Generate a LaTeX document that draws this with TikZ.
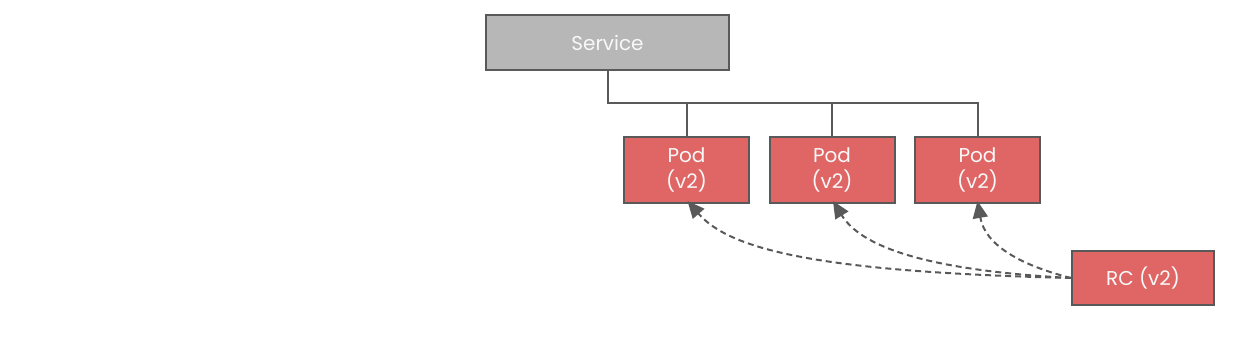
\documentclass[tikz,border=0pt]{standalone}
\usepackage{fontspec}
\setmainfont{Poppins}
\usetikzlibrary{arrows.meta}
\definecolor{svcgray}{HTML}{B7B7B7}
\definecolor{podred}{HTML}{E06666}
\definecolor{edge}{HTML}{595959}
\definecolor{txt}{HTML}{F8F8F8}
\tikzset{
  box/.style={draw=edge, line width=2pt, text=txt, font=\fontsize{20}{26}\selectfont, align=center, inner sep=0pt},
  svc/.style={box, fill=svcgray, minimum width=243pt, minimum height=55pt},
  pod/.style={box, fill=podred, minimum width=125pt, minimum height=66pt},
  rc/.style={box, fill=podred, minimum width=142pt, minimum height=54pt},
  wire/.style={draw=edge, line width=2pt},
  ctl/.style={draw=edge, line width=2pt, dash pattern=on 6pt off 4pt, -{Triangle[length=17pt,width=15pt]}, fill=none}
}
\begin{document}
\begin{tikzpicture}[x=1pt,y=-1pt]
\useasboundingbox (0,0) rectangle (1248,342);
\node[svc] (service) at (607.5,42.5) {Service};
\node[pod] (p1) at (686.5,170) {Pod\\(v2)};
\node[pod] (p2) at (832,170) {Pod\\(v2)};
\node[pod] (p3) at (977.5,170) {Pod\\(v2)};
\node[rc] (rc) at (1143,278) {RC (v2)};
\coordinate (bus) at (607.5,103);
\draw[wire] (service.south) -- (bus) -| (p3.north);
\draw[wire] (p1.north) -- (p1.north |- bus);
\draw[wire] (p2.north) -- (p2.north |- bus);
\draw[ctl] (rc.west) .. controls (820,272) and (730,250) .. ([xshift=1pt,yshift=3pt]p1.south);
\draw[ctl] (rc.west) .. controls (920,270) and (860,245) .. ([xshift=1pt,yshift=3pt]p2.south);
\draw[ctl] (rc.west) .. controls (1020,265) and (985,245) .. ([yshift=3pt]p3.south);
\end{tikzpicture}
\end{document}
